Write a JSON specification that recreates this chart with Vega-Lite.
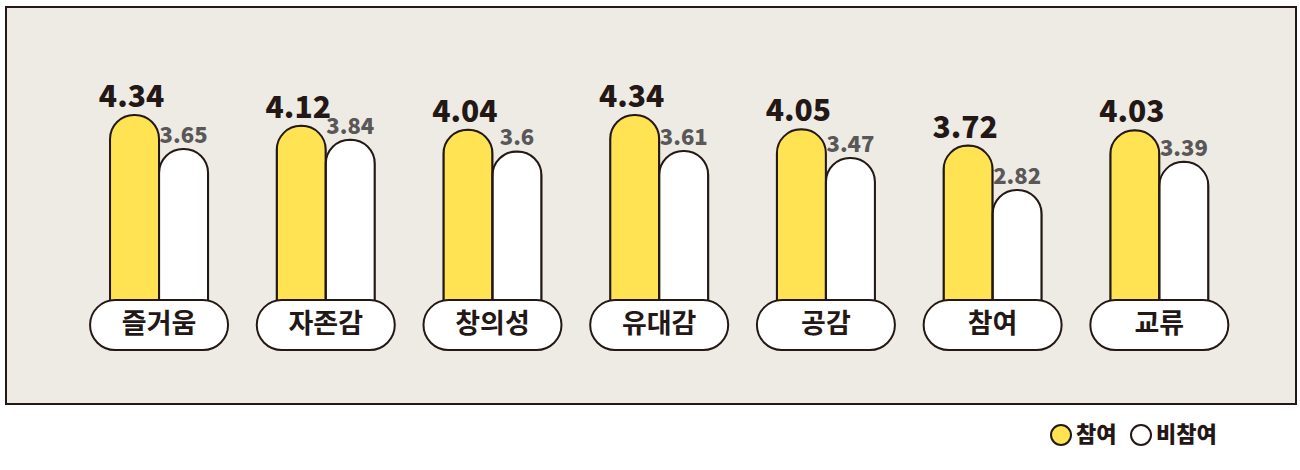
{
  "$schema": "https://vega.github.io/schema/vega-lite/v6.json",
  "width": 1290,
  "height": 397,
  "autosize": {"type": "none"},
  "padding": {"left": 6, "top": 7, "right": 4, "bottom": 66},
  "background": "#ffffff",
  "config": {
    "view": {"fill": "#edebe4", "stroke": "#231815", "strokeWidth": 2},
    "font": "Noto Sans CJK KR"
  },
  "data": {
    "values": [
      {"category": "즐거움", "group": "참여", "value": 4.34},
      {"category": "즐거움", "group": "비참여", "value": 3.65},
      {"category": "자존감", "group": "참여", "value": 4.12},
      {"category": "자존감", "group": "비참여", "value": 3.84},
      {"category": "창의성", "group": "참여", "value": 4.04},
      {"category": "창의성", "group": "비참여", "value": 3.6},
      {"category": "유대감", "group": "참여", "value": 4.34},
      {"category": "유대감", "group": "비참여", "value": 3.61},
      {"category": "공감", "group": "참여", "value": 4.05},
      {"category": "공감", "group": "비참여", "value": 3.47},
      {"category": "참여", "group": "참여", "value": 3.72},
      {"category": "참여", "group": "비참여", "value": 2.82},
      {"category": "교류", "group": "참여", "value": 4.03},
      {"category": "교류", "group": "비참여", "value": 3.39}
    ]
  },
  "encoding": {
    "x": {
      "field": "category",
      "type": "nominal",
      "sort": null,
      "axis": null,
      "scale": {"range": [69.7, 1236.7], "paddingInner": 0, "paddingOuter": 0}
    }
  },
  "layer": [
    {
      "mark": {"type": "bar", "cornerRadiusTopLeft": 24, "cornerRadiusTopRight": 24, "stroke": "#231815", "strokeWidth": 2},
      "encoding": {
        "xOffset": {"field": "group", "type": "nominal", "scale": {"domain": ["참여", "비참여"], "paddingOuter": 0.7, "paddingInner": 0}},
        "y": {"field": "value", "type": "quantitative", "axis": null, "scale": {"domain": [-1.52, 6.53], "nice": false, "zero": false}},
        "fill": {
          "field": "group",
          "type": "nominal",
          "scale": {"domain": ["참여", "비참여"], "range": ["#ffe352", "#ffffff"]},
          "legend": {
            "title": null,
            "orient": "none",
            "legendX": 1044,
            "legendY": 417,
            "direction": "horizontal",
            "symbolType": "circle",
            "symbolSize": 400,
            "symbolStrokeColor": "#231815",
            "symbolStrokeWidth": 2,
            "labelFontSize": 22,
            "labelFontWeight": 900,
            "labelColor": "#231815",
            "labelFont": "Noto Sans CJK KR",
            "columnPadding": 10,
            "labelOffset": 4
          }
        }
      }
    },
    {
      "transform": [{"filter": "datum.group === '참여'"}],
      "mark": {"type": "text", "baseline": "alphabetic", "dy": -8, "dx": -3, "fontSize": 30, "fontWeight": 900, "color": "#231815"},
      "encoding": {
        "xOffset": {"field": "group", "type": "nominal"},
        "y": {"field": "value", "type": "quantitative"},
        "text": {"field": "value", "type": "quantitative"}
      }
    },
    {
      "transform": [{"filter": "datum.group === '비참여'"}],
      "mark": {"type": "text", "baseline": "alphabetic", "dy": -6, "fontSize": 22, "fontWeight": 900, "color": "#595757"},
      "encoding": {
        "xOffset": {"field": "group", "type": "nominal"},
        "y": {"field": "value", "type": "quantitative"},
        "text": {"field": "value", "type": "quantitative"}
      }
    },
    {
      "transform": [{"filter": "datum.group === '참여'"}],
      "mark": {"type": "bar", "width": 138, "cornerRadius": 25, "fill": "#ffffff", "stroke": "#231815", "strokeWidth": 2},
      "encoding": {
        "y": {"datum": 0.588, "type": "quantitative"},
        "y2": {"datum": -0.426}
      }
    },
    {
      "transform": [{"filter": "datum.group === '참여'"}],
      "mark": {"type": "text", "baseline": "middle", "fontSize": 27, "fontWeight": "bold", "color": "#231815"},
      "encoding": {
        "y": {"datum": 0.08, "type": "quantitative"},
        "text": {"field": "category", "type": "nominal"}
      }
    }
  ]
}
